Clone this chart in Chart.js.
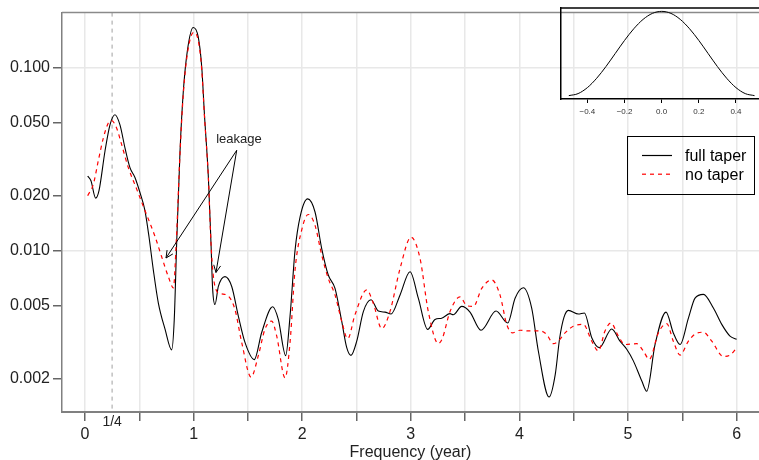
<!DOCTYPE html>
<html><head><meta charset="utf-8">
<script src="https://cdn.jsdelivr.net/npm/chart.js@4.4.1/dist/chart.umd.min.js"></script>
<style>
html,body{margin:0;padding:0;background:#fff;}
#wrap{position:relative;width:759px;height:460px;overflow:hidden;}
#main{position:absolute;left:0;top:0;}
#inset{position:absolute;left:555px;top:0;}
</style></head><body>
<div id="wrap"><canvas id="main" width="759" height="460"></canvas><canvas id="inset" width="204" height="125"></canvas></div>
<script>
// ---- data ----
const freqFull = [0.025,0.055,0.098,0.129,0.184,0.230,0.276,0.322,0.368,0.414,0.46,0.506,0.552,0.589,0.629,0.675,0.737,0.798,0.822,0.844,0.875,0.905,0.945,0.997,1.043,1.075,1.1,1.136,1.16,1.175,1.197,1.228,1.289,1.351,1.412,1.473,1.559,1.627,1.728,1.78,1.848,1.888,1.934,1.98,2.05,2.118,2.18,2.24,2.302,2.364,2.41,2.449,2.502,2.563,2.634,2.701,2.762,2.818,2.901,2.993,3.069,3.155,3.223,3.284,3.361,3.39,3.469,3.545,3.646,3.785,3.892,3.96,4.036,4.113,4.174,4.273,4.33,4.37,4.41,4.451,4.543,4.598,4.666,4.736,4.85,4.926,4.988,5.049,5.126,5.172,5.249,5.35,5.417,5.479,5.556,5.617,5.694,5.786,5.863,5.939,6.0];
const fullTaper = [0.0255,0.024,0.0193,0.0212,0.0348,0.0485,0.0551,0.0485,0.0363,0.0283,0.025,0.0207,0.0165,0.0119,0.00783,0.00517,0.00371,0.00286,0.0042,0.0109,0.0348,0.0735,0.126,0.165,0.146,0.1,0.055,0.025,0.011,0.0062,0.00506,0.00635,0.00719,0.00635,0.00437,0.00314,0.00253,0.00356,0.00492,0.0042,0.00266,0.00437,0.01,0.0152,0.0191,0.0162,0.0102,0.00733,0.0062,0.00409,0.00294,0.00267,0.00319,0.00463,0.00537,0.00466,0.0046,0.00449,0.00571,0.00764,0.00548,0.0037,0.00419,0.00426,0.00451,0.00445,0.00494,0.0046,0.00366,0.00466,0.00401,0.00548,0.00625,0.00484,0.00282,0.00158,0.0021,0.0033,0.0043,0.0047,0.00449,0.00455,0.00333,0.00294,0.00372,0.00319,0.00288,0.00249,0.00194,0.0017,0.00306,0.0046,0.00354,0.00306,0.00426,0.00548,0.00575,0.00484,0.00394,0.0034,0.00327];
const freqNo = [0.025,0.077,0.122,0.169,0.215,0.245,0.291,0.337,0.399,0.476,0.552,0.6,0.645,0.706,0.767,0.814,0.84,0.875,0.905,0.945,1.0,1.043,1.075,1.1,1.136,1.16,1.18,1.212,1.25,1.32,1.381,1.443,1.529,1.596,1.657,1.719,1.765,1.842,1.888,1.934,1.995,2.056,2.118,2.18,2.24,2.302,2.364,2.419,2.486,2.594,2.655,2.732,2.808,2.901,3.002,3.085,3.161,3.253,3.29,3.361,3.453,3.515,3.576,3.653,3.745,3.821,3.883,3.935,4.006,4.082,4.19,4.251,4.312,4.36,4.42,4.496,4.588,4.666,4.727,4.788,4.843,4.911,4.972,5.08,5.141,5.196,5.279,5.356,5.417,5.479,5.556,5.617,5.694,5.771,5.878,5.939,5.994];
const noTaper = [0.0199,0.023,0.0308,0.0411,0.0496,0.0511,0.0466,0.0379,0.0283,0.0216,0.0165,0.014,0.0119,0.00922,0.00719,0.00624,0.011,0.034,0.071,0.121,0.155,0.14,0.097,0.054,0.025,0.011,0.0074,0.006,0.0058,0.00562,0.00475,0.00314,0.00203,0.00266,0.00371,0.00411,0.00341,0.00201,0.00314,0.00783,0.0129,0.0157,0.0137,0.0094,0.00702,0.00571,0.00409,0.00329,0.00445,0.00608,0.00513,0.00374,0.00463,0.00796,0.0118,0.00902,0.00463,0.0031,0.0033,0.00463,0.00557,0.00499,0.00494,0.0062,0.00689,0.00571,0.00394,0.00354,0.00366,0.00363,0.00363,0.00347,0.00309,0.0032,0.00354,0.00385,0.00394,0.00319,0.00282,0.00363,0.00401,0.0034,0.00306,0.00309,0.00282,0.00254,0.00354,0.00398,0.00319,0.00268,0.00319,0.00349,0.00357,0.00319,0.00263,0.00268,0.0029];
const seriesLabels = ['full taper','no taper'];
const xTickValues = [0,0.5,1,1.5,2,2.5,3,3.5,4,4.5,5,5.5,6];
const xTickLabels = ['0','','1','','2','','3','','4','','5','','6'];
const yTickValues = [0.002,0.005,0.01,0.02,0.05,0.1];
const yTickLabels = ['0.002','0.005','0.010','0.020','0.050','0.100'];
const yGridValues = [0.01,0.1];
const refFreq = 0.25, refLabel = '1/4';
const xTitle = 'Frequency (year)';
const leakLabel = 'leakage';
const leakFrom = {x:1.397, y:0.0352};
const leakTargets = [{x:0.746, y:0.00908},{x:1.206, y:0.00757}];
const leakText = {x:1.418, y:0.0405};
// inset (taper shape)
const taperX = [-0.5,-0.45,-0.4,-0.35,-0.3,-0.25,-0.2,-0.15,-0.1,-0.05,0,0.05,0.1,0.15,0.2,0.25,0.3,0.35,0.4,0.45,0.5];
const taperW = [0.0,0.024,0.095,0.206,0.345,0.5,0.655,0.794,0.905,0.976,1.0,0.976,0.905,0.794,0.655,0.5,0.345,0.206,0.095,0.024,0.0];
const insetTickValues = [-0.4,-0.2,0,0.2,0.4];
const insetTickLabels = ['\u22120.4','\u22120.2','0.0','0.2','0.4'];

const FONT = '"Liberation Sans", Arial, Helvetica, sans-serif';

function arrow(ctx, sx, sy, ex, ey){
  ctx.beginPath(); ctx.moveTo(sx,sy); ctx.lineTo(ex,ey); ctx.stroke();
  const ang = Math.atan2(ey-sy, ex-sx), L = 8, w = Math.PI/7;
  ctx.beginPath();
  ctx.moveTo(ex - L*Math.cos(ang-w), ey - L*Math.sin(ang-w));
  ctx.lineTo(ex, ey);
  ctx.lineTo(ex - L*Math.cos(ang+w), ey - L*Math.sin(ang+w));
  ctx.stroke();
}

const overlay = {
  id:'overlay',
  beforeDatasetsDraw(chart){
    const {ctx, chartArea:a, scales:{x}} = chart;
    ctx.save();
    const px = x.getPixelForValue(refFreq);
    ctx.strokeStyle = '#c4c4c4'; ctx.lineWidth = 1.6; ctx.setLineDash([4,4]);
    ctx.beginPath(); ctx.moveTo(px, a.top); ctx.lineTo(px, a.bottom); ctx.stroke();
    ctx.restore();
  },
  afterDraw(chart){
    const {ctx, chartArea:a, scales:{x,y}} = chart;
    ctx.save();
    // top frame line
    ctx.strokeStyle = '#8a8a8a'; ctx.lineWidth = 1.5;
    ctx.beginPath(); ctx.moveTo(a.left, a.top); ctx.lineTo(a.right, a.top); ctx.stroke();
    // 1/4 label
    ctx.fillStyle = '#222'; ctx.font = '14px ' + FONT; ctx.textAlign = 'center'; ctx.textBaseline = 'middle';
    ctx.fillText(refLabel, x.getPixelForValue(refFreq), 422);
    // x title
    ctx.font = '16px ' + FONT;
    ctx.fillText(xTitle, (a.left + a.right)/2, 453);
    // leakage annotation
    ctx.font = '13px ' + FONT;
    ctx.fillText(leakLabel, x.getPixelForValue(leakText.x), y.getPixelForValue(leakText.y));
    ctx.strokeStyle = '#000'; ctx.lineWidth = 1;
    const sx = x.getPixelForValue(leakFrom.x), sy = y.getPixelForValue(leakFrom.y);
    leakTargets.forEach(t => arrow(ctx, sx, sy, x.getPixelForValue(t.x), y.getPixelForValue(t.y)));
    // legend
    const bx = 627.5, by = 136.5, bw = 127, bh = 58;
    ctx.strokeStyle = '#000'; ctx.lineWidth = 1;
    ctx.strokeRect(bx, by, bw, bh);
    ctx.font = '16px ' + FONT; ctx.textAlign = 'left';
    chart.data.datasets.forEach((ds, i) => {
      const ly = 155.5 + i*18.7;
      ctx.strokeStyle = ds.borderColor; ctx.lineWidth = 1.2;
      ctx.setLineDash(ds.borderDash || []);
      ctx.beginPath(); ctx.moveTo(642, ly); ctx.lineTo(672, ly); ctx.stroke();
      ctx.setLineDash([]);
      ctx.fillStyle = '#000';
      ctx.fillText(ds.label, 685, ly + 1);
    });
    ctx.restore();
  }
};

new Chart(document.getElementById('main'), {
  type:'line',
  data:{datasets:[
    {label:seriesLabels[0], data:freqFull.map((f,i)=>({x:f, y:fullTaper[i]})), borderColor:'#000000', borderWidth:1.1, pointRadius:0, cubicInterpolationMode:'monotone', fill:false, order:2},
    {label:seriesLabels[1], data:freqNo.map((f,i)=>({x:f, y:noTaper[i]})), borderColor:'#ff0000', borderDash:[4,4], borderWidth:1.2, pointRadius:0, cubicInterpolationMode:'monotone', fill:false, order:1}
  ]},
  options:{
    responsive:false, animation:false, devicePixelRatio:1,
    layout:{padding:{top:8, left:0, right:0, bottom:0}},
    plugins:{legend:{display:false}, tooltip:{enabled:false}, title:{display:false}},
    scales:{
      x:{type:'linear', min:-0.2117, max:6.2059,
        afterBuildTicks:s=>{s.ticks = xTickValues.map(v=>({value:v}));},
        afterFit:s=>{s.height = 48;},
        grid:{color:'#e8e8e8', lineWidth:1.5, tickColor:'#666', tickLength:9},
        border:{color:'#808080', width:2},
        ticks:{callback:(v,i)=>xTickLabels[i], font:{size:16, family:FONT}, color:'#222', padding:4, maxRotation:0, autoSkip:false}
      },
      y:{type:'logarithmic', min:0.001309, max:0.199,
        afterBuildTicks:s=>{s.ticks = yTickValues.map(v=>({value:v}));},
        afterFit:s=>{s.width = 62;},
        grid:{color:c=> (c.tick && yGridValues.includes(c.tick.value)) ? '#e8e8e8' : 'rgba(0,0,0,0)', lineWidth:1.5, tickColor:'#666', tickLength:9},
        border:{color:'#808080', width:1.5},
        ticks:{callback:(v,i)=>yTickLabels[i], font:{size:16, family:FONT}, color:'#222', padding:3, autoSkip:false}
      }
    }
  },
  plugins:[overlay]
});

const insetFrame = {
  id:'insetFrame',
  afterDraw(chart){
    const {ctx, chartArea:a} = chart;
    ctx.save(); ctx.strokeStyle = '#000'; ctx.lineWidth = 1.5;
    ctx.beginPath(); ctx.moveTo(a.left, a.top); ctx.lineTo(a.right, a.top); ctx.stroke();
    ctx.restore();
  }
};

new Chart(document.getElementById('inset'), {
  type:'line',
  data:{datasets:[{data:taperX.map((v,i)=>({x:v, y:taperW[i]})), borderColor:'#000', borderWidth:1, pointRadius:0, cubicInterpolationMode:'monotone', fill:false}]},
  options:{
    responsive:false, animation:false, devicePixelRatio:1,
    layout:{padding:{top:8, left:0, right:0, bottom:0}},
    plugins:{legend:{display:false}, tooltip:{enabled:false}},
    scales:{
      x:{type:'linear', min:-0.542, max:0.524,
        afterBuildTicks:s=>{s.ticks = insetTickValues.map(v=>({value:v}));},
        afterFit:s=>{s.height = 26;},
        grid:{drawOnChartArea:false, tickColor:'#000', tickLength:4, lineWidth:1},
        border:{color:'#000', width:1.5},
        ticks:{callback:(v,i)=>insetTickLabels[i], font:{size:8, family:FONT}, color:'#333', padding:4, maxRotation:0, autoSkip:false}
      },
      y:{type:'linear', min:-0.04, max:1.04,
        afterFit:s=>{s.width = 6;},
        grid:{display:false},
        border:{color:'#000', width:1.5},
        ticks:{display:false}
      }
    }
  },
  plugins:[insetFrame]
});
</script>
</body></html>
